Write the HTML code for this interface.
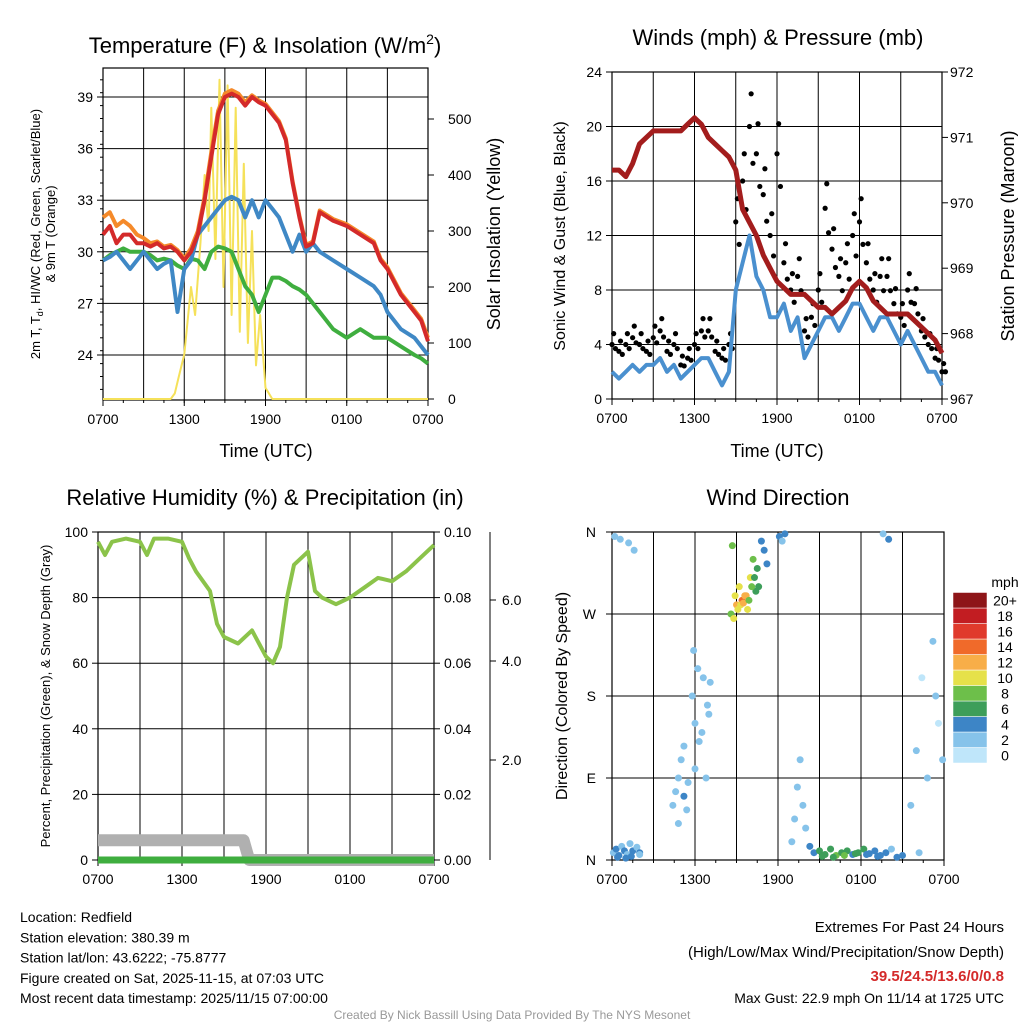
<!DOCTYPE html>
<html><head><meta charset="utf-8"><style>
body{margin:0;background:#fff;font-family:"Liberation Sans",sans-serif}
svg text{font-family:"Liberation Sans",sans-serif}
</style></head><body>
<svg id="s" width="1024" height="1024" viewBox="0 0 1024 1024" xmlns="http://www.w3.org/2000/svg"></svg>
<script>
// ---------- DATA ----------
const tempHours=[0,0.5,1,1.5,2,2.5,3,3.5,4,4.5,5,5.5,6,6.5,7,7.5,8,8.5,9,9.5,10,10.5,11,11.5,12,12.5,13,13.5,14,14.5,15,15.5,16,17,18,19,20,20.5,21,22,23,23.5,24];
const tempRed=[31,31.5,30.5,31,31,30.5,30.5,30.3,30.5,30.2,30.3,30,29.5,30,31,33,35.5,38,39,39.2,39,38.5,39,38.7,38.5,38,37.5,36.5,34,32,30.3,30.5,32.3,31.8,31.5,31,30.5,29.5,29,27.5,26.5,26,24.8];
const tempOrange=[32,32.3,31.5,31.8,31.5,31,30.8,30.5,30.6,30.3,30.4,30.1,29.6,30.2,31.2,33.2,35.8,38.2,39.2,39.4,39.2,38.7,39.1,38.8,38.6,38.1,37.6,36.6,34.1,32.1,30.4,30.6,32.4,31.9,31.6,31.1,30.6,29.6,29.1,27.6,26.6,26.1,25];
const tempBlue=[29.5,29.7,30,29.5,29,29.5,30,29.5,29,29.3,29.5,26.5,29,29.5,31,31.5,32,32.5,33,33.2,33,32,33,32,33,32.5,32,31,30,31,30,30.5,30,29.5,29,28.5,28,27.5,26.5,25.5,25,24.5,24];
const tempGreen=[29.5,29.8,30,30.2,30,30,30,29.8,29.5,29.6,29.5,29.2,29,29.6,29.5,29,30,30.3,30.2,30,29,28,27.5,26.5,27.5,28.5,28.5,28.3,28,27.8,27.5,27,26.5,25.5,25,25.5,25,25,25,24.5,24,23.8,23.5];
const solarHours=[0,5,5.3,5.6,6,6.5,6.8,7.2,7.5,7.8,8,8.3,8.6,8.9,9.2,9.5,9.8,10.1,10.4,10.7,11,11.3,11.6,12,12.5,24];
const solarVals=[0,0,10,40,80,200,150,280,400,300,520,250,570,200,560,150,520,120,420,100,300,60,150,20,0,0];
const windHours=[0,0.5,1,1.5,2,2.5,3,3.5,4,4.5,5,5.5,6,6.5,7,7.5,8,8.5,9,9.5,10,10.5,11,11.5,12,12.5,13,13.5,14,14.5,15,15.5,16,16.5,17,17.5,18,18.5,19,19.5,20,20.5,21,21.5,22,22.5,23,23.5,24];
const windSpeed=[2,1.5,2,2.5,2,2.5,2.5,3,2,2.5,1.5,2,2.5,3,3,2,1,2,8,10,12,9,8,6,6,7,5,6,3,4,5,6,6,5,6,7,7,6,5,6,6,5,4,5,4,3,2,2,1];
const windGust=[4,3.5,4,4.5,4,3.5,4.5,5,3.5,4,2.5,3,4,5,5,3.5,3,4,13,16,20,18,15,12,18,10,8,9,5,6,8,14,11,9,10,12,13,10,8,9,9,7,6,8,7,5,4,3,2];
const pressure=[970.5,970.5,970.4,970.6,970.9,971.0,971.1,971.1,971.1,971.1,971.1,971.2,971.3,971.2,971.0,970.9,970.8,970.7,970.5,969.9,969.7,969.5,969.2,969.0,968.8,968.7,968.6,968.6,968.6,968.5,968.4,968.4,968.3,968.4,968.5,968.7,968.8,968.7,968.5,968.4,968.3,968.3,968.3,968.3,968.2,968.1,968.0,967.9,967.7];
const rhHours=[0,0.5,1,2,3,3.5,4,5,6,6.5,7,8,8.5,9,10,11,11.5,12,12.5,13,13.5,14,15,15.5,16,17,18,19,20,21,22,23,24];
const rhVals=[97,93,97,98,97,93,98,98,97,92,88,82,72,68,66,70,66,62,60,65,80,90,94,82,80,78,80,83,86,85,88,92,96];
const snowHours=[0,10.4,10.8,24];
const snowVals=[0.006,0.006,0,0];
const dirHours=[0.1,0.3,0.5,0.7,0.9,1.1,1.3,1.5,1.8,2.0,0.2,0.6,1.2,1.6,0.4,1.0,1.4,2.0,4.4,4.6,4.8,5.0,5.2,5.5,5.8,6.0,6.3,6.6,6.9,7.1,5.2,6.8,4.8,5.4,6.0,6.5,7.0,5.9,6.2,8.6,8.8,9.0,9.2,9.4,9.6,9.8,10.0,10.2,10.4,10.6,10.8,11.0,11.2,8.7,9.3,9.1,9.5,9.7,9.9,10.1,10.3,10.5,8.9,12.1,12.3,12.5,13.0,13.2,13.4,13.6,13.8,14.0,14.3,14.6,15.0,15.4,15.8,16.2,16.6,17.0,17.4,17.8,18.2,18.6,19.0,19.4,19.8,20.2,19.6,20.0,21.6,22.0,22.4,22.8,23.2,23.6,23.9,22.2,23.4,15.2,16.0,16.8,17.6,18.4,19.2,20.6,21.0];
const dirVals=[8,12,5,15,10,6,18,10,14,8,355,352,348,340,3,2,4,6,60,75,90,110,70,85,180,150,130,200,170,195,125,90,40,55,100,140,160,230,210,270,265,280,300,285,290,275,310,330,295,300,350,340,325,345,280,275,282,290,285,300,310,320,290,355,350,358,20,45,80,110,60,35,15,8,10,6,12,5,8,10,6,8,12,7,10,5,8,12,358,352,60,120,200,90,240,150,110,8,180,4,3,5,7,6,4,3,5];
const dirSpeed=[2,3,4,2,3,1,2,3,2,3,1,2,1,1,3,4,3,2,1,2,1,2,3,2,1,2,1,1,2,1,1,2,2,1,2,1,1,1,2,8,10,12,10,14,11,9,9,8,6,5,4,3,4,7,9,10,12,11,8,8,6,6,9,3,2,3,1,1,2,2,1,1,3,4,5,6,5,7,6,5,4,6,5,3,4,4,3,2,2,3,1,1,0,1,1,0,1,2,1,6,5,7,6,4,3,4,3];

// ---------- HELPERS ----------
const S=document.getElementById('s');const NS='http://www.w3.org/2000/svg';
function el(tag,a,parent){const e=document.createElementNS(NS,tag);for(const k in a)e.setAttribute(k,a[k]);(parent||S).appendChild(e);return e;}
function txt(x,y,s,size,anchor,extra){const e=el('text',Object.assign({x:x,y:y,'font-size':size,'text-anchor':anchor||'middle',fill:'#000'},extra||{}));e.textContent=s;return e;}
function scale(d0,d1,r0,r1){return v=>r0+(v-d0)/(d1-d0)*(r1-r0);}
function line(xs,ys,sx,sy,color,w,name){const d=xs.map((t,i)=>(i?'L':'M')+sx(t).toFixed(1)+','+sy(ys[i]).toFixed(1)).join('');const p=el('path',{d:d,fill:'none',stroke:color,'stroke-width':w,'stroke-linejoin':'round'});return p;}
const xLabels=['0700','1300','1900','0100','0700'];
function frame(x0,x1,y0,y1,name){
  const g=el('g',{});
  const sx=scale(0,24,x0,x1);
  for(let h=3;h<24;h+=3)el('line',{x1:sx(h),x2:sx(h),y1:y0,y2:y1,stroke:'#000','stroke-width':1},g);
  for(let i=0;i<5;i++){el('line',{x1:sx(i*6),x2:sx(i*6),y1:y1,y2:y1+6,stroke:'#000'},g);const t=txt(sx(i*6),y1+24,xLabels[i],14);}
  for(let h=0;h<=24;h+=1.5)el('line',{x1:sx(h),x2:sx(h),y1:y1,y2:y1+3,stroke:'#000'},g);
  el('rect',{x:x0,y:y0,width:x1-x0,height:y1-y0,fill:'none',stroke:'#000','stroke-width':1.2},g);
  return {g,sx};
}

// ---------- PANEL 1: TEMPERATURE ----------
(function(){
  const x0=103,x1=428,y0=68,y1=400;
  const {g,sx}=frame(x0,x1,y0,y1,'temperature-panel');
  const sy=scale(24,39,355,97), sr=scale(0,500,399,119);
  [24,27,30,33,36,39].forEach(v=>{el('line',{x1:x0,x2:x1,y1:sy(v),y2:sy(v),stroke:'#000'},g);el('line',{x1:x0-6,x2:x0,y1:sy(v),y2:sy(v),stroke:'#000'},g);txt(x0-10,sy(v)+5,String(v),14,'end');});
  for(let v=22;v<=40;v+=0.75){if(sy(v)>y0&&sy(v)<y1)el('line',{x1:x0-3,x2:x0,y1:sy(v),y2:sy(v),stroke:'#000'},g);}
  [0,100,200,300,400,500].forEach(v=>{el('line',{x1:x1,x2:x1+6,y1:sr(v),y2:sr(v),stroke:'#000'},g);txt(x1+20,sr(v)+5,String(v),14,'start');});
  line(solarHours,solarVals,sx,sr,'#f5e15a',2,'solar-insolation-line');
  line(tempHours,tempGreen,sx,sy,'#3fae3f',4,'dewpoint-line');
  line(tempHours,tempBlue,sx,sy,'#3f88c5',4,'wind-chill-line');
  line(tempHours,tempOrange,sx,sy,'#f58a2a',4,'9m-temp-line');
  line(tempHours,tempRed,sx,sy,'#d42a2a',4,'2m-temp-line');
  txt(265,53,'Temperature (F) & Insolation (W/m',22).innerHTML='Temperature (F) &amp; Insolation (W/m<tspan dy="-9" font-size="14">2</tspan><tspan dy="9">)</tspan>';
  txt(266,457,'Time (UTC)',18);
  const yl=txt(0,0,'',13,'middle',{transform:'translate(40,234) rotate(-90)'});yl.innerHTML='2m T, T<tspan dy="3" font-size="9">d</tspan><tspan dy="-3">, HI/WC (Red, Green, Scarlet/Blue)</tspan>';
  txt(0,0,'& 9m T (Orange)',13,'middle',{transform:'translate(55,234) rotate(-90)'});
  txt(0,0,'Solar Insolation (Yellow)',18,'middle',{transform:'translate(500,234) rotate(-90)'});
})();

// ---------- PANEL 2: WINDS ----------
(function(){
  const x0=612,x1=942,y0=72,y1=399;
  const {g,sx}=frame(x0,x1,y0,y1,'winds-panel');
  const sy=scale(0,24,y1,y0), sp=scale(967,972,y1,y0);
  [0,4,8,12,16,20,24].forEach(v=>{if(v>0&&v<24)el('line',{x1:x0,x2:x1,y1:sy(v),y2:sy(v),stroke:'#000'},g);el('line',{x1:x0-6,x2:x0,y1:sy(v),y2:sy(v),stroke:'#000'},g);txt(x0-10,sy(v)+5,String(v),14,'end');});
  [967,968,969,970,971,972].forEach(v=>{el('line',{x1:x1,x2:x1+6,y1:sp(v),y2:sp(v),stroke:'#000'},g);txt(x1+8,sp(v)+5,String(v),14,'start');});
  line(windHours,windSpeed,sx,sy,'#4a90cf',4,'sonic-wind-line');
  windGust.forEach((v,i)=>{const c=el('circle',{cx:sx(windHours[i]),cy:sy(v),r:2.6,fill:'#000'},g);
    const c2=el('circle',{cx:sx(windHours[i]+0.25),cy:sy(Math.max(0,v*0.85+0.3)),r:2.6,fill:'#000'},g);
    const c3=el('circle',{cx:sx(windHours[i]+0.12),cy:sy(v*1.1+0.4),r:2.6,fill:'#000'},g);});
  line(windHours,pressure,sx,sp,'#a31d1d',5,'pressure-line');
  txt(778,45,'Winds (mph) & Pressure (mb)',22);
  txt(777,457,'Time (UTC)',18);
  txt(0,0,'Sonic Wind & Gust (Blue, Black)',16,'middle',{transform:'translate(565,236) rotate(-90)'});
  txt(0,0,'Station Pressure (Maroon)',18,'middle',{transform:'translate(1014,236) rotate(-90)'});
})();

// ---------- PANEL 3: RH ----------
(function(){
  const x0=98,x1=434,y0=532,y1=860;
  const {g,sx}=frame(x0,x1,y0,y1,'humidity-panel');
  const sy=scale(0,100,y1,y0), sp=scale(0,0.1,y1,y0);
  [0,20,40,60,80,100].forEach(v=>{if(v>0&&v<100)el('line',{x1:x0,x2:x1,y1:sy(v),y2:sy(v),stroke:'#000'},g);el('line',{x1:x0-6,x2:x0,y1:sy(v),y2:sy(v),stroke:'#000'},g);txt(x0-10,sy(v)+5,String(v),14,'end');});
  ['0.00','0.02','0.04','0.06','0.08','0.10'].forEach((s,i)=>{const v=i*0.02;el('line',{x1:x1,x2:x1+6,y1:sp(v),y2:sp(v),stroke:'#000'},g);txt(x1+10,sp(v)+5,s,14,'start');});
  el('line',{x1:490,x2:490,y1:y0,y2:y1,stroke:'#000'},g);
  [['2.0',760],['4.0',661],['6.0',600]].forEach(a=>{el('line',{x1:490,x2:496,y1:a[1],y2:a[1],stroke:'#000'},g);txt(502,a[1]+5,a[0],14,'start');});
  line(snowHours,snowVals,sx,sp,'#b0b0b0',12,'snow-depth-line');
  line([0,24],[0,0],sx,sp,'#3fae3f',7,'precip-line');
  line(rhHours,rhVals,sx,sy,'#8bc34a',4,'rh-line');
  txt(265,505,'Relative Humidity (%) & Precipitation (in)',22);
  txt(0,0,'Percent, Precipitation (Green), & Snow Depth (Gray)',13,'middle',{transform:'translate(50,696) rotate(-90)'});
})();

// ---------- PANEL 4: WIND DIRECTION ----------
(function(){
  const x0=612,x1=944,y0=532,y1=860;
  const {g,sx}=frame(x0,x1,y0,y1,'wind-direction-panel');
  const sy=scale(0,360,y1,y0);
  [['N',0],['E',90],['S',180],['W',270],['N',360]].forEach(a=>{if(a[1]>0&&a[1]<360)el('line',{x1:x0,x2:x1,y1:sy(a[1]),y2:sy(a[1]),stroke:'#000'},g);el('line',{x1:x0-6,x2:x0,y1:sy(a[1]),y2:sy(a[1]),stroke:'#000'},g);txt(x0-16,sy(a[1])+5,a[0],14,'end');});
  const cols=['#bfe6fa','#86c3ea','#3d85c6','#3d9e5a','#6dbf4a','#e6e14a','#f8ae48','#f06a2a','#e03a2c','#c21d22','#8e1518'];
  dirVals.forEach((v,i)=>{const k=Math.min(10,Math.round(dirSpeed[i]/2));const c=el('circle',{cx:sx(dirHours[i]),cy:sy(v),r:3.5,fill:cols[k]},g);});
  txt(778,505,'Wind Direction',22);
  txt(0,0,'Direction (Colored By Speed)',16,'middle',{transform:'translate(567,696) rotate(-90)'});
  const lg=el('g',{});
  const labs=['0','2','4','6','8','10','12','14','16','18','20+'];
  cols.forEach((c,i)=>{const yy=763-(i+1)*15.5;el('rect',{x:953,y:yy,width:34,height:15.5,fill:c,stroke:'#fff','stroke-width':0.5},lg);txt(1005,yy+13,labs[i],14,'middle');});
  txt(1005,587,'mph',14);
})();

// ---------- FOOTER TEXT ----------
['Location: Redfield','Station elevation: 380.39 m','Station lat/lon: 43.6222; -75.8777','Figure created on Sat, 2025-11-15, at 07:03 UTC','Most recent data timestamp: 2025/11/15 07:00:00'].forEach((s,i)=>{const t=txt(20,922+i*20.3,s,14,'start');});
txt(1004,932,'Extremes For Past 24 Hours',15,'end');
txt(1004,957,'(High/Low/Max Wind/Precipitation/Snow Depth)',15,'end');
txt(1004,981,'39.5/24.5/13.6/0/0.8',15,'end',{fill:'#d42a2a','font-weight':'bold'});
txt(1004,1003,'Max Gust: 22.9 mph On 11/14 at 1725 UTC',14,'end');
txt(512,1019,'Created By Nick Bassill Using Data Provided By The NYS Mesonet',12,'middle',{fill:'#999'});
</script>
</body></html>
